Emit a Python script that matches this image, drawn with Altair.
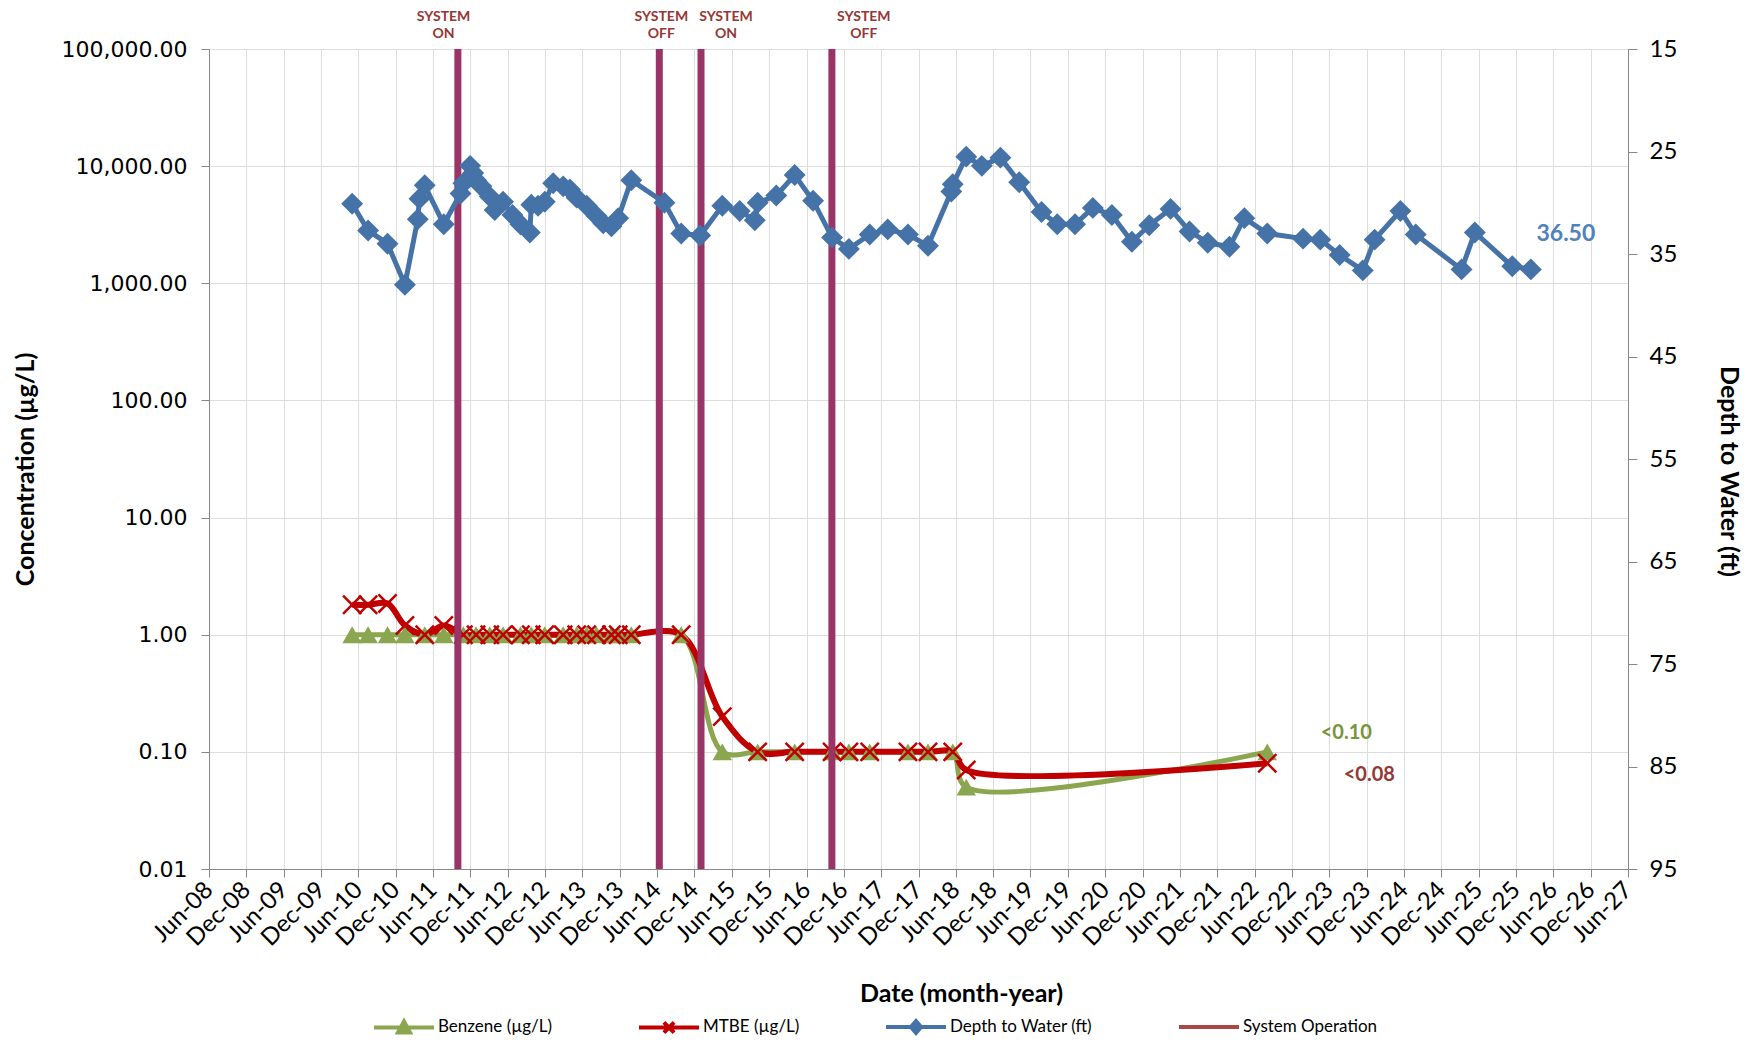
import altair as alt
import pandas as pd

# ---------------- data ----------------
depth_dates = [
    "2010-05-02", "2010-07-19", "2010-10-22", "2011-01-15", "2011-03-19", "2011-03-27",
    "2011-04-22", "2011-07-24", "2011-10-14", "2011-10-28", "2011-11-30", "2011-12-15",
    "2011-12-29", "2012-01-24", "2012-03-05", "2012-03-29", "2012-05-09", "2012-06-24",
    "2012-08-02", "2012-09-17", "2012-09-24", "2012-10-27", "2012-11-29", "2013-01-09",
    "2013-02-27", "2013-04-01", "2013-05-04", "2013-06-22", "2013-08-09", "2013-09-11",
    "2013-10-21", "2013-11-23", "2014-01-26", "2014-07-07", "2014-09-27", "2014-12-29",
    "2015-04-16", "2015-07-10", "2015-09-22", "2015-10-06", "2016-01-05", "2016-04-04",
    "2016-07-03", "2016-10-04", "2016-12-25", "2017-04-06", "2017-07-03", "2017-10-10",
    "2018-01-16", "2018-05-10", "2018-05-17", "2018-07-22", "2018-10-06", "2019-01-05",
    "2019-04-07", "2019-07-25", "2019-10-10", "2020-01-05", "2020-04-01", "2020-07-03",
    "2020-10-09", "2021-01-02", "2021-04-16", "2021-07-18", "2021-10-15", "2022-01-29",
    "2022-04-12", "2022-08-02", "2023-01-24", "2023-04-18", "2023-07-22", "2023-11-12",
    "2024-01-09", "2024-05-14", "2024-07-28", "2025-03-09", "2025-05-13", "2025-11-12",
    "2026-02-11",
]
depth_ft = [
    30.1, 32.7, 34.0, 38.0, 31.6, 29.6,
    28.3, 32.1, 29.1, 28.1, 26.4, 27.1,
    27.8, 28.4, 29.4, 30.7, 29.9, 31.2,
    32.1, 32.9, 30.2, 30.3, 29.9, 28.1,
    28.4, 28.7, 29.5, 30.3, 31.3, 32.0,
    32.3, 31.5, 27.8, 30.0, 33.0, 33.2,
    30.3, 30.8, 31.7, 30.0, 29.3, 27.3,
    29.8, 33.4, 34.5, 33.1, 32.6, 33.1,
    34.2, 28.9, 28.2, 25.5, 26.4, 25.6,
    28.0, 30.9, 32.1, 32.1, 30.5, 31.2,
    33.8, 32.2, 30.6, 32.8, 33.9, 34.3,
    31.5, 33.0, 33.5, 33.6, 35.1, 36.6,
    33.6, 30.8, 33.1, 36.5, 32.9, 36.2,
    36.5,
]

conc_dates = [
    "2010-05-02", "2010-07-19", "2010-10-22", "2011-01-15", "2011-04-22", "2011-07-24",
    "2011-10-28", "2011-12-29", "2012-03-05", "2012-05-09", "2012-08-02", "2012-09-24",
    "2012-11-29", "2013-02-27", "2013-05-04", "2013-06-22", "2013-08-09", "2013-10-21",
    "2013-11-23", "2014-01-26", "2014-09-27", "2015-04-16", "2015-10-06", "2016-04-04",
    "2016-10-04", "2016-12-25", "2017-04-06", "2017-10-10", "2018-01-16", "2018-05-17",
    "2018-07-22", "2022-08-02",
]
benzene = [
    1.0, 1.0, 1.0, 1.0, 1.0, 1.0,
    1.0, 1.0, 1.0, 1.0, 1.0, 1.0,
    1.0, 1.0, 1.0, 1.0, 1.0, 1.0,
    1.0, 1.0, 1.0, 0.1, 0.1, 0.1,
    0.1, 0.1, 0.1, 0.1, 0.1, 0.1,
    0.05, 0.1,
]
mtbe = [
    1.8, 1.8, 1.85, 1.2, 1.0, 1.2,
    1.0, 1.0, 1.0, 1.0, 1.0, 1.0,
    1.0, 1.0, 1.0, 1.0, 1.0, 1.0,
    1.0, 1.0, 1.0, 0.2, 0.1, 0.1,
    0.1, 0.1, 0.1, 0.1, 0.1, 0.1,
    0.07, 0.08,
]

system_dates = ["2011-10-01", "2014-06-12", "2015-01-02", "2016-10-03"]
system_label_dates = ["2011-07-23", "2014-06-22", "2015-05-04", "2017-03-08"]
system_label_top = ["SYSTEM", "SYSTEM", "SYSTEM", "SYSTEM"]
system_label_bottom = ["ON", "OFF", "ON", "OFF"]

x_tick_dates = [f"{y}-{m:02d}-01" for y in range(2008, 2028) for m in (6, 12)][:-1]
conc_ticks = [0.01, 0.1, 1, 10, 100, 1000, 10000, 100000]
depth_ticks = [15, 25, 35, 45, 55, 65, 75, 85, 95]

series_names = ["Benzene (µg/L)", "MTBE (µg/L)", "Depth to Water (ft)", "System Operation"]

# ---------------- styles ----------------
GREEN = "#8AA64F"
RED = "#C00000"
BLUE = "#4572A7"
SYS = "#9B3466"
SYS_TEXT = "#953735"
GRID = "#858585"
FONT = "Lato"

def T(s):
    return s + "T00:00:00"

def dt(s):
    return alt.DateTime(year=int(s[:4]), month=int(s[5:7]), date=int(s[8:10]))

depth_df = pd.DataFrame({"date": [T(d) for d in depth_dates], "depth": depth_ft})
conc_df = pd.DataFrame({"date": [T(d) for d in conc_dates], "benzene": benzene, "mtbe": mtbe})
sys_df = pd.DataFrame({"date": [T(d) for d in system_dates]})
sys_lab_df = pd.DataFrame({"date": [T(d) for d in system_label_dates],
                           "top": system_label_top, "bottom": system_label_bottom})
legend_df = pd.DataFrame({"date": [T(conc_dates[0])] * 4, "value": [1e-6] * 4,
                          "series": series_names})
benz_last = pd.DataFrame({"date": [T(conc_dates[-1])], "value": [benzene[-1]],
                          "label": ["<%.2f" % benzene[-1]]})
mtbe_last = pd.DataFrame({"date": [T(conc_dates[-1])], "value": [mtbe[-1]],
                          "label": ["<%.2f" % mtbe[-1]]})
depth_last = pd.DataFrame({"date": [T(depth_dates[-1])], "depth": [depth_ft[-1]],
                           "label": ["%.2f" % depth_ft[-1]]})

x_enc = alt.X(
    "date:T",
    scale=alt.Scale(domain=[dt(x_tick_dates[0]), dt(x_tick_dates[-1])]),
    axis=alt.Axis(
        values=[dt(s) for s in x_tick_dates], format="%b-%y",
        labelAngle=315, labelAlign="right", labelBaseline="middle",
        labelFont=FONT, labelFontSize=24, labelPadding=9, labelOverlap=False,
        tickSize=8, grid=True,
        title="Date (month-year)", titleFont=FONT, titleFontSize=25, titleFontWeight="bold",
        titleX=752, titleY=124, titleAlign="center", titleBaseline="middle",
    ),
)

def y_left(field):
    return alt.Y(
        f"{field}:Q",
        scale=alt.Scale(type="log", domain=[0.01, 100000]),
        axis=alt.Axis(
            orient="left", values=conc_ticks, format=",.2f", grid=True,
            labelFont="DejaVu Sans", labelFontSize=22, labelPadding=14, tickSize=8,
            title="Concentration (µg/L)", titleFont=FONT, titleFontSize=25,
            titleFontWeight="bold", titleAngle=270, titleX=-184, titleY=420,
            titleAlign="center", titleBaseline="middle",
        ),
    )

y_right = alt.Y(
    "depth:Q",
    scale=alt.Scale(domain=[15, 95], reverse=True),
    axis=alt.Axis(
        orient="right", values=depth_ticks, grid=False,
        labelFont=FONT, labelFontSize=24, labelPadding=12, tickSize=9,
        title="Depth to Water (ft)", titleFont=FONT, titleFontSize=25,
        titleFontWeight="bold", titleAngle=90, titleX=100, titleY=422,
        titleAlign="center", titleBaseline="middle",
    ),
)

benz_line = alt.Chart(conc_df).mark_line(
    color=GREEN, strokeWidth=5, interpolate="catmull-rom"
).encode(x=x_enc, y=y_left("benzene"))
mtbe_line = alt.Chart(conc_df).mark_line(
    color=RED, strokeWidth=6, interpolate="catmull-rom"
).encode(x=x_enc, y=y_left("mtbe"))
benz_pts = alt.Chart(conc_df).mark_point(
    shape="triangle-up", filled=True, color=GREEN, size=380, opacity=1
).encode(x=x_enc, y=y_left("benzene"))
mtbe_pts = alt.Chart(conc_df).mark_point(
    shape="M-1,-1L1,1M-1,1L1,-1", filled=False, color=RED, size=330,
    strokeWidth=2.5, opacity=1
).encode(x=x_enc, y=y_left("mtbe"))

rules = alt.Chart(sys_df).mark_rule(color=SYS, strokeWidth=7).encode(x=x_enc)
sys_top = alt.Chart(sys_lab_df).mark_text(
    font=FONT, fontSize=14, fontWeight="bold", color=SYS_TEXT, baseline="middle"
).encode(x=x_enc, y=alt.value(-32), text="top:N")
sys_bot = alt.Chart(sys_lab_df).mark_text(
    font=FONT, fontSize=14, fontWeight="bold", color=SYS_TEXT, baseline="middle"
).encode(x=x_enc, y=alt.value(-15), text="bottom:N")

benz_lab = alt.Chart(benz_last).mark_text(
    font=FONT, fontSize=20, fontWeight="bold", color="#77933C", dx=79, dy=-19
).encode(x=x_enc, y=y_left("value"), text="label:N")
mtbe_lab = alt.Chart(mtbe_last).mark_text(
    font=FONT, fontSize=20, fontWeight="bold", color=SYS_TEXT, dx=102, dy=12
).encode(x=x_enc, y=y_left("value"), text="label:N")

legend_props = dict(
    title=None, orient="none", legendX=163, legendY=946, direction="horizontal",
    columns=4, columnPadding=78, symbolSize=3600, symbolStrokeWidth=4,
    labelFont=FONT, labelFontSize=17, labelOffset=2, padding=0,
)
legend_dummy = alt.Chart(legend_df).mark_point(filled=True, opacity=1, clip=True).encode(
    x=x_enc, y=y_left("value"),
    fill=alt.Fill("series:N", scale=alt.Scale(domain=series_names,
                  range=[GREEN, RED, BLUE, "#AA4643"]), legend=alt.Legend(**legend_props)),
    stroke=alt.Stroke("series:N", scale=alt.Scale(domain=series_names,
                  range=[GREEN, RED, BLUE, "#AA4643"]), legend=alt.Legend(**legend_props)),
    shape=alt.Shape("series:N", scale=alt.Scale(domain=series_names, range=[
        "M-1,0H1M0,-0.2L0.2,0.17H-0.2Z",
        "M-1,0H1M-0.17,-0.17L0.17,0.17M-0.17,0.17L0.17,-0.17",
        "M-1,0H1M0,-0.2L0.17,0L0,0.2L-0.17,0Z",
        "M-1,0H1M0,-0.2L0,-0.2M0,0.2L0,0.2",
    ]), legend=alt.Legend(**legend_props)),
)

depth_line = alt.Chart(depth_df).mark_line(color=BLUE, strokeWidth=5).encode(
    x=x_enc, y=y_right)
depth_pts = alt.Chart(depth_df).mark_point(
    shape="diamond", filled=True, color=BLUE, size=480, opacity=1
).encode(x=x_enc, y=y_right)
depth_lab = alt.Chart(depth_last).mark_text(
    font=FONT, fontSize=23, fontWeight="bold", color="#4F81BD", dx=35, dy=-35
).encode(x=x_enc, y=y_right, text="label:N")

left = alt.layer(benz_line, mtbe_line, benz_pts, mtbe_pts, rules, sys_top, sys_bot,
                 benz_lab, mtbe_lab, legend_dummy)
right = alt.layer(depth_line, depth_pts, depth_lab)

chart = alt.layer(left, right).resolve_scale(y="independent").properties(
    width=1419, height=820,
    autosize=alt.AutoSizeParams(type="none"),
    padding={"left": 201, "top": 41, "right": 120, "bottom": 170},
).configure_view(stroke=None).configure_axis(
    domainColor=GRID, domainWidth=2, tickColor=GRID, tickWidth=1.8,
    gridColor=GRID, gridWidth=2, labelColor="black", titleColor="black",
).configure(background="white")

chart.save("out.html", embed_options={"renderer": "svg", "actions": False})
